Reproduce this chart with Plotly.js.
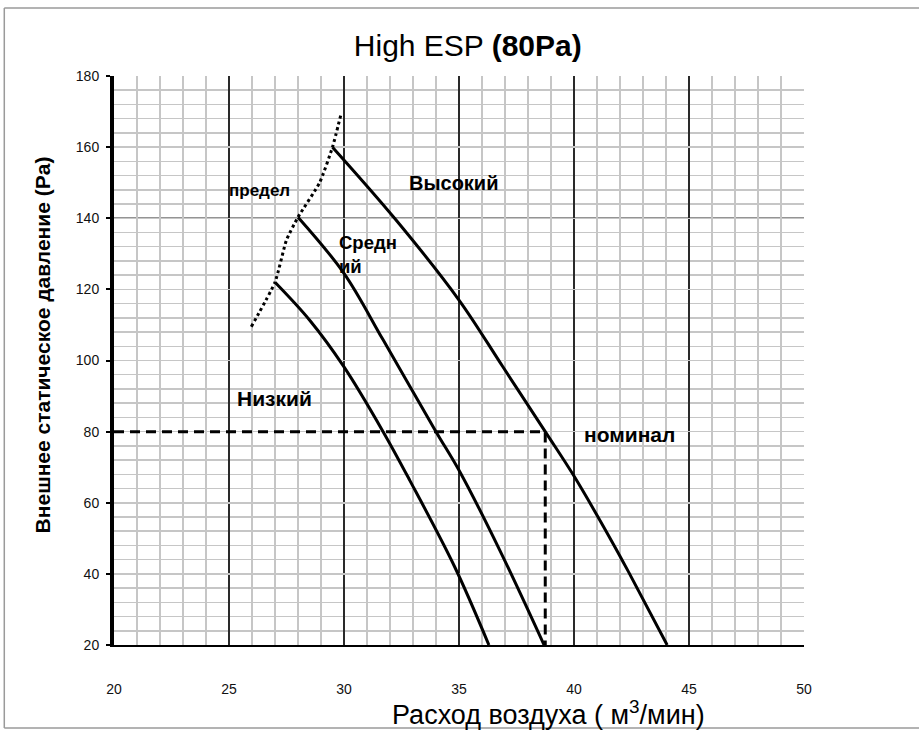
<!DOCTYPE html>
<html>
<head>
<meta charset="utf-8">
<script src="https://cdn.plot.ly/plotly-3.0.1.min.js"></script>
<style>html,body{margin:0;padding:0;background:#fff;}#chart{width:919px;height:731px;}</style>
</head>
<body>
<div id="chart"></div>
<script>
// ---- data ----
const highX = [29.5, 32.2, 35.0, 36.9, 38.75, 40.0, 41.7, 42.4, 44.05];
const highY = [160, 140, 117, 98.3, 80, 67.5, 48.5, 40.2, 20];

const midX = [28.0, 30.0, 31.7, 34.0, 35.03, 36.77, 38.7];
const midY = [140.3, 124.5, 105.8, 80, 68.8, 46.7, 20];

const lowX = [27.0, 28.5, 30.0, 31.7, 32.86, 34.81, 36.3];
const lowY = [122.0, 111.4, 98.2, 80, 66.3, 42.0, 20];

const limitX = [25.97, 27.0, 27.5, 28.0, 28.94, 29.5, 29.86];
const limitY = [109.5, 122.0, 133.9, 140.3, 150, 160, 169];

const nominalX = 38.75;   // m3/min
const nominalY = 80;      // Pa
const xMin = 20, xMax = 50, yMin = 20, yMax = 180;

const xTicks = [20, 25, 30, 35, 40, 45, 50];
const yTicks = [20, 40, 60, 80, 100, 120, 140, 160, 180];
const yDarkLines = [40, 140, 160];

const labelText = ['предел', 'Высокий', 'Средн<br>ий', 'Низкий', 'номинал'];
const labelX = [26.34, 34.76, 29.68, 26.99, 42.43];
const labelY = [147.7, 150, 129.7, 89.4, 79.3];
const labelSize = [17, 20, 18.5, 21, 21];
const labelAnchor = ['center', 'center', 'left', 'center', 'center'];

const FONT = 'Liberation Sans, Arial, sans-serif';

function curve(x, y, name) {
  return {x: x, y: y, mode: 'lines', name: name,
          line: {color: '#000', width: 3, shape: 'spline', smoothing: 1}};
}
const traces = [
  curve(highX, highY, 'Высокий'),
  curve(midX, midY, 'Средний'),
  curve(lowX, lowY, 'Низкий'),
  {x: limitX, y: limitY, mode: 'lines', name: 'предел',
   line: {color: '#000', width: 3, dash: 'dot', shape: 'spline', smoothing: 0.5}},
  {x: [xMin, nominalX, nominalX], y: [nominalY, nominalY, yMin], mode: 'lines', name: 'номинал',
   line: {color: '#000', width: 3, dash: '10px,6px'}}
];

const annotations = labelText.map((t, i) => ({
  text: '<b>' + t + '</b>', x: labelX[i], y: labelY[i], xref: 'x', yref: 'y',
  showarrow: false, xanchor: labelAnchor[i], yanchor: 'middle', align: 'left',
  font: {family: FONT, size: labelSize[i], color: '#000'}
}));
annotations.push({
  text: '<b>Внешнее статическое давление (Pa)</b>', textangle: -90,
  xref: 'paper', yref: 'paper', x: -0.104, y: 0.527, xanchor: 'center', yanchor: 'middle',
  showarrow: false, font: {family: FONT, size: 21, color: '#000'}
});
annotations.push({
  text: 'Расход воздуха ( м<sup>3</sup>/мин)',
  xref: 'paper', yref: 'paper', x: 0.629, y: -0.1195, xanchor: 'center', yanchor: 'middle',
  showarrow: false, font: {family: FONT, size: 27, color: '#000'}
});

const borderColor = '#9a9a9a';
const shapes = [
  {type: 'line', xref: 'paper', yref: 'paper', x0: -0.159, x1: -0.159, y0: 1.1195, y1: -0.1459, line: {color: borderColor, width: 1.5}},
  {type: 'line', xref: 'paper', yref: 'paper', x0: -0.159, x1: 1.17, y0: 1.1195, y1: 1.1195, line: {color: borderColor, width: 1.5}},
  {type: 'line', xref: 'paper', yref: 'paper', x0: -0.159, x1: 1.17, y0: -0.1459, y1: -0.1459, line: {color: borderColor, width: 1.5}}
].concat(yDarkLines.map(v => ({
  type: 'line', xref: 'paper', yref: 'y', x0: 0, x1: 1, y0: v, y1: v, layer: 'between',
  line: {color: '#2a2a2a', width: 1.3}
})));

const layout = {
  width: 919, height: 731,
  margin: {l: 114, r: 115, t: 76, b: 86},
  paper_bgcolor: '#fff', plot_bgcolor: '#fff',
  showlegend: false,
  title: {text: 'High ESP <b>(80Pa)</b>', font: {family: FONT, size: 30, color: '#000'},
          x: 0.509, xanchor: 'center', y: 1 - 45 / 731, yanchor: 'middle', xref: 'container', yref: 'container'},
  xaxis: {
    range: [xMin, xMax], tickvals: xTicks, ticks: '',
    showgrid: true, gridcolor: '#2a2a2a', gridwidth: 1.3,
    minor: {dtick: 1, tick0: 20, showgrid: true, gridcolor: '#c6c6c6', gridwidth: 1.5},
    zeroline: false, showline: true, linecolor: '#000', linewidth: 2,
    tickfont: {family: FONT, size: 14, color: '#111'}, ticklabelstandoff: 30
  },
  yaxis: {
    range: [yMin, yMax], tickvals: yTicks, ticks: 'outside', ticklen: 4, tickwidth: 2, tickcolor: '#000',
    showgrid: true, gridcolor: '#c6c6c6', gridwidth: 1.5,
    minor: {dtick: 4, tick0: 20, showgrid: true, gridcolor: '#c6c6c6', gridwidth: 1.5},
    zeroline: false, showline: true, linecolor: '#000', linewidth: 4,
    tickfont: {family: FONT, size: 14, color: '#111'}, ticklabelstandoff: 4
  },
  annotations: annotations,
  shapes: shapes
};

Plotly.newPlot('chart', traces, layout, {displayModeBar: false, staticPlot: true});
</script>
</body>
</html>
